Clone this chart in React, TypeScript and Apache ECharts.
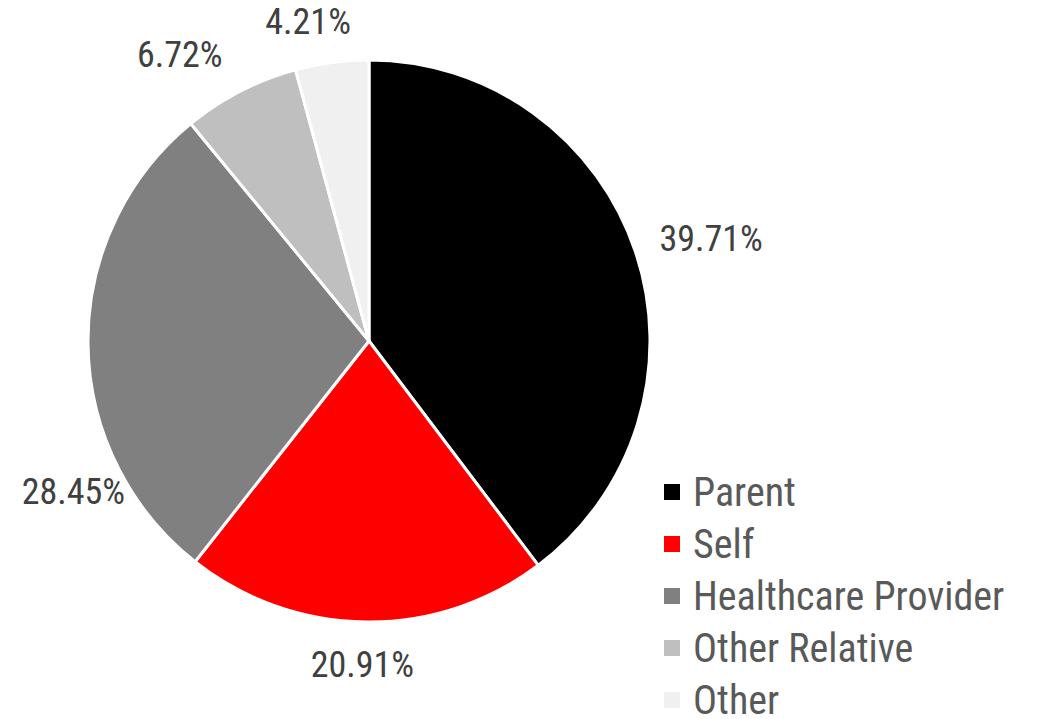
import React, { useEffect, useRef } from "react";
import * as echarts from "echarts";

const categories = ["Parent", "Self", "Healthcare Provider", "Other Relative", "Other"];
const shares = [39.71, 20.91, 28.45, 6.72, 4.21];
const sliceColors = ["#000000", "#ff0000", "#808080", "#bfbfbf", "#f0f0f0"];
// small per-label nudges (Excel "best fit" placement)
const labelNudge = [[4, 1], [-3, 1], [61, 148], [-30, 1], [-15, 1]];

const FONT = "'Roboto Condensed', 'Liberation Sans Narrow', 'DejaVu Sans Condensed', 'Arial Narrow', Roboto, sans-serif";
const CX = 369;
const CY = 341;
const R = 281;
const LABEL_R = 305;

export default function App() {
  const ref = useRef<HTMLDivElement>(null);
  useEffect(() => {
    document.body.style.margin = "0";
    const chart = echarts.init(ref.current!, null, { renderer: "svg" });
    const total = shares.reduce((a, b) => a + b, 0);
    const mids: number[] = [];
    let acc = 0;
    shares.forEach((v) => {
      mids.push(((acc + v / 2) / total) * 2 * Math.PI);
      acc += v;
    });
    chart.setOption({
      animation: false,
      legend: {
        orient: "vertical",
        left: 662,
        top: 472,
        height: 280,
        padding: 0,
        itemWidth: 18,
        itemHeight: 18,
        itemGap: 12,
        icon: "rect",
        data: categories,
        textStyle: {
          fontFamily: FONT,
          fontSize: 40,
          lineHeight: 40,
          color: "#595959",
          padding: [0, 0, 0, 7],
        },
      },
      series: [
        {
          type: "pie",
          center: [CX, CY],
          radius: R,
          startAngle: 90,
          clockwise: true,
          avoidLabelOverlap: false,
          itemStyle: { borderColor: "#ffffff", borderWidth: 3 },
          label: {
            show: true,
            position: "outside",
            formatter: (p: any) => p.value.toFixed(2) + "%",
            fontFamily: FONT,
            fontSize: 36,
            color: "#404040",
          },
          labelLine: { show: false },
          labelLayout: (p: any) => {
            const a = mids[p.dataIndex];
            const ux = Math.sin(a);
            const uy = -Math.cos(a);
            const w = p.labelRect.width;
            const h = p.labelRect.height;
            const n = labelNudge[p.dataIndex];
            return {
              x: CX + LABEL_R * ux + (ux * w) / 2 + n[0],
              y: CY + LABEL_R * uy + (uy * h) / 2 + n[1],
              align: "center",
              verticalAlign: "middle",
            };
          },
          data: categories.map((c, i) => ({
            name: c,
            value: shares[i],
            itemStyle: { color: sliceColors[i] },
          })),
        },
      ],
    });
    return () => chart.dispose();
  }, []);
  return <div ref={ref} style={{ width: 1040, height: 719 }} />;
}
